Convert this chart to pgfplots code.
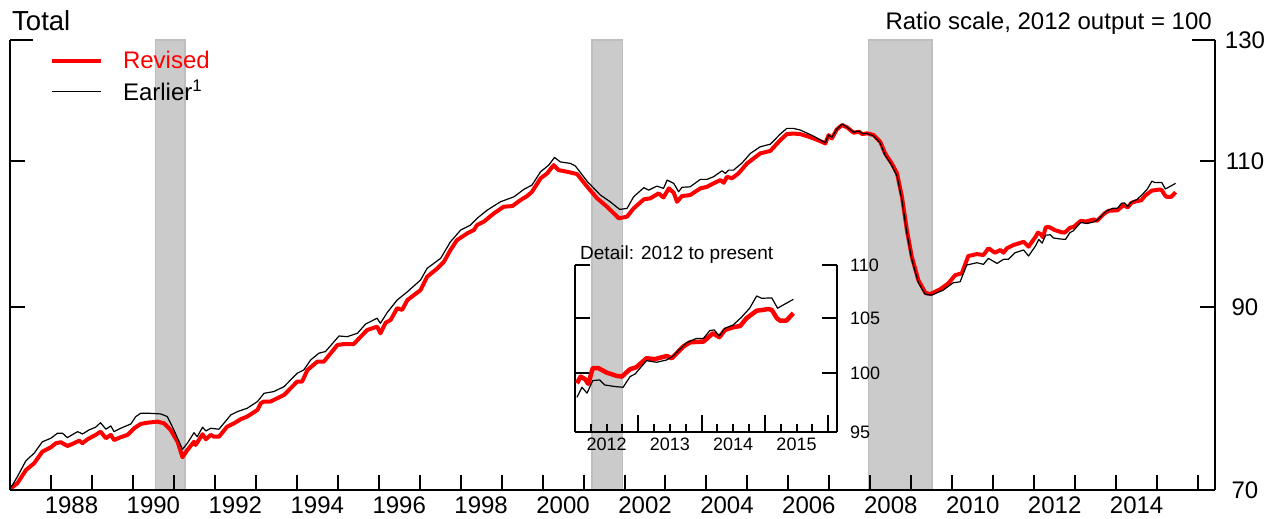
\documentclass[border=0pt]{standalone}
\usepackage{fontspec}
\setmainfont{Liberation Sans}
\usepackage{pgfplots}
\usepackage{pgfplotstable}
\pgfplotsset{compat=1.18}
\definecolor{recess}{HTML}{CBCBCB}
\definecolor{recessedge}{HTML}{BEBEBE}
\definecolor{revred}{HTML}{FF0000}

\pgfplotstableread{
year value
1987.00 70.10
1987.18 70.65
1987.39 71.95
1987.59 72.62
1987.79 73.79
1988.00 74.24
1988.12 74.65
1988.24 74.75
1988.40 74.37
1988.52 74.57
1988.69 74.91
1988.77 74.65
1988.89 75.05
1989.09 75.51
1989.21 75.85
1989.34 75.16
1989.46 75.51
1989.54 74.98
1989.70 75.27
1989.87 75.51
1990.03 76.21
1990.19 76.66
1990.35 76.79
1990.60 76.90
1990.76 76.73
1990.92 76.03
1991.09 74.80
1991.21 73.22
1991.33 73.96
1991.49 74.80
1991.53 74.47
1991.70 75.58
1991.78 75.05
1991.90 75.51
1991.98 75.33
1992.10 75.33
1992.30 76.37
1992.47 76.73
1992.63 77.16
1992.79 77.44
1993.04 78.15
1993.12 78.87
1993.20 79.06
1993.36 79.06
1993.69 79.78
1994.01 81.25
1994.13 81.25
1994.26 82.56
1994.50 83.51
1994.66 83.51
1994.99 85.44
1995.15 85.56
1995.39 85.56
1995.56 86.43
1995.72 87.23
1995.96 87.63
1996.04 86.83
1996.17 88.11
1996.29 88.44
1996.45 89.88
1996.57 89.67
1996.70 90.90
1996.86 91.52
1997.02 92.15
1997.18 93.85
1997.43 94.94
1997.59 95.81
1997.75 97.37
1997.91 98.71
1998.16 99.63
1998.32 100.08
1998.40 100.77
1998.56 101.23
1998.81 102.40
1999.05 103.35
1999.26 103.44
1999.46 104.30
1999.62 104.87
1999.74 105.49
1999.95 107.46
2000.11 108.20
2000.27 109.44
2000.39 108.69
2000.60 108.44
2000.84 108.10
2001.09 106.22
2001.33 104.55
2001.57 103.35
2001.86 101.71
2002.06 101.94
2002.22 103.11
2002.47 104.40
2002.63 104.55
2002.83 105.26
2002.95 104.68
2003.08 105.99
2003.20 105.35
2003.28 104.05
2003.40 104.87
2003.60 105.02
2003.85 105.99
2004.01 106.22
2004.17 106.72
2004.34 107.21
2004.42 106.81
2004.50 107.70
2004.62 107.46
2004.78 108.20
2004.99 109.69
2005.15 110.45
2005.31 111.21
2005.56 111.61
2005.80 113.26
2005.96 114.20
2006.12 114.30
2006.29 114.20
2006.45 113.90
2006.61 113.53
2006.78 113.10
2006.90 112.75
2006.98 114.05
2007.06 113.53
2007.18 114.95
2007.31 115.64
2007.43 115.27
2007.59 114.43
2007.72 114.58
2007.80 114.22
2007.92 114.33
2008.08 114.06
2008.24 113.00
2008.36 111.21
2008.52 109.69
2008.65 108.20
2008.77 104.77
2008.89 100.08
2009.01 96.48
2009.17 93.43
2009.34 91.81
2009.46 91.65
2009.58 91.94
2009.70 92.24
2009.90 93.00
2010.07 94.07
2010.23 94.29
2010.39 96.57
2010.60 96.83
2010.76 96.70
2010.88 97.60
2011.04 97.01
2011.17 97.37
2011.25 97.01
2011.33 97.60
2011.49 98.04
2011.74 98.48
2011.86 97.82
2012.03 99.15
2012.09 99.73
2012.16 99.50
2012.21 99.09
2012.28 100.47
2012.37 100.47
2012.50 100.08
2012.66 99.79
2012.74 99.73
2012.87 100.38
2012.97 100.55
2013.13 101.35
2013.26 101.27
2013.45 101.55
2013.53 101.35
2013.71 102.39
2013.82 102.78
2014.03 102.84
2014.18 103.60
2014.28 103.24
2014.37 103.90
2014.50 104.15
2014.61 104.26
2014.71 104.97
2014.87 105.67
2014.97 105.74
2015.05 105.83
2015.11 105.74
2015.19 104.97
2015.24 104.75
2015.34 104.75
2015.45 105.44
}\revised

\pgfplotstableread{
year value
1987.00 70.20
1987.06 70.48
1987.18 71.29
1987.39 72.88
1987.59 73.63
1987.79 74.80
1988.00 75.16
1988.16 75.69
1988.28 75.69
1988.40 75.23
1988.65 75.85
1988.77 75.61
1988.93 76.03
1989.09 76.31
1989.21 76.79
1989.34 76.10
1989.46 76.45
1989.54 75.85
1989.70 76.21
1989.95 76.66
1990.07 77.44
1990.19 77.80
1990.39 77.80
1990.68 77.72
1990.84 77.44
1991.00 76.03
1991.21 74.03
1991.33 74.65
1991.49 75.74
1991.57 75.33
1991.70 76.31
1991.78 75.92
1991.90 76.21
1992.10 76.10
1992.39 77.62
1992.55 77.97
1992.79 78.33
1993.04 79.06
1993.20 79.96
1993.44 80.14
1993.69 80.69
1994.01 82.19
1994.17 82.56
1994.34 83.71
1994.54 84.49
1994.70 84.68
1995.03 86.51
1995.23 86.43
1995.48 86.83
1995.68 87.95
1995.96 88.65
1996.04 88.03
1996.21 89.37
1996.45 90.90
1996.70 91.94
1997.02 93.43
1997.18 94.94
1997.51 96.26
1997.75 98.48
1998.00 100.08
1998.24 100.77
1998.40 101.71
1998.65 102.87
1998.97 104.05
1999.30 104.77
1999.54 105.84
1999.74 106.47
1999.95 108.44
2000.15 109.44
2000.29 110.60
2000.43 109.93
2000.68 109.69
2000.80 109.30
2001.09 107.00
2001.41 105.02
2001.65 104.05
2001.88 102.97
2002.06 103.11
2002.22 104.77
2002.47 106.09
2002.59 105.74
2002.79 106.32
2002.95 105.99
2003.04 107.21
2003.20 106.72
2003.32 105.49
2003.40 106.15
2003.60 106.22
2003.85 107.31
2004.01 107.31
2004.17 107.70
2004.38 108.59
2004.46 108.20
2004.54 108.69
2004.66 108.69
2004.87 109.78
2005.07 111.21
2005.31 112.23
2005.56 112.64
2005.80 114.22
2005.96 115.11
2006.12 115.11
2006.29 114.84
2006.61 113.90
2006.90 112.86
2006.98 114.05
2007.06 113.70
2007.18 115.00
2007.31 115.80
2007.43 115.30
2007.59 114.50
2007.72 114.70
2007.80 114.30
2007.92 114.30
2008.08 113.90
2008.24 112.80
2008.36 110.90
2008.52 109.40
2008.65 107.80
2008.77 104.30
2008.89 99.70
2009.01 96.10
2009.17 93.10
2009.34 91.60
2009.50 91.52
2009.78 92.15
2010.02 93.08
2010.19 93.21
2010.35 95.38
2010.60 95.68
2010.76 95.47
2010.88 96.26
2011.09 95.60
2011.25 96.13
2011.37 96.13
2011.53 97.01
2011.74 97.37
2011.86 96.57
2012.03 97.93
2012.11 98.80
2012.19 98.29
2012.28 99.38
2012.39 99.44
2012.47 99.00
2012.63 98.86
2012.76 98.80
2012.87 99.73
2012.95 99.96
2013.13 101.13
2013.29 100.99
2013.45 101.20
2013.55 101.55
2013.76 102.74
2013.92 103.13
2014.03 103.13
2014.13 103.84
2014.20 103.90
2014.28 103.35
2014.37 104.05
2014.50 104.36
2014.63 105.06
2014.76 105.90
2014.87 107.04
2014.95 106.83
2015.11 106.86
2015.20 105.90
2015.45 106.73
}\earlier

\begin{document}
\begin{tikzpicture}
\path[use as bounding box] (-10bp,-29bp) rectangle (1268bp,490bp);
\begin{axis}[
  at={(0,0)}, anchor=south west,
  scale only axis, width=1205bp, height=450bp,
  xmin=1987, xmax=2016.41,
  ymode=log, ymin=70, ymax=130,
  axis x line*=bottom, axis y line*=box,
  axis on top,
  axis line style={line width=2bp, black},
  tick style={line width=2bp, black},
  major tick length=15bp,
  tick align=inside,
  xtick={1988,1989,...,2016},
  xticklabels={1988,,1990,,1992,,1994,,1996,,1998,,2000,,2002,,2004,,2006,,2008,,2010,,2012,,2014,,},
  xticklabel style={anchor=north, inner sep=0pt, yshift=-7bp, xshift=20.5bp},
  ytick={70,90,110,130},
  yticklabels={70,90,110,130},
  yticklabel pos=right,
  yticklabel style={anchor=center, inner sep=0pt, xshift=30bp},
  extra y ticks={130},
  extra y tick labels={},
  extra y tick style={major tick length=23bp},
  tick label style={font=\fontsize{24bp}{28bp}\selectfont},
  /pgf/number format/assume math mode=true,
  clip=true,
  legend style={at={(0.0332,0.9744)}, anchor=north west, draw=none, fill=none,
    inner sep=0pt, outer sep=0pt, font=\fontsize{24bp}{28bp}\selectfont,
    row sep=10bp, column sep=0bp,
    nodes={inner sep=0pt}},
  legend cell align=left,
  legend image code/.code={\draw[#1] (0bp,0bp) -- (49bp,0bp);},
  /tikz/every odd column/.append style={column sep=20bp},
]
\addplot[fill=recess, draw=recessedge, line width=1.5bp, forget plot] coordinates {(1990.55,70) (1990.55,130) (1991.27,130) (1991.27,70)};
\addplot[fill=recess, draw=recessedge, line width=1.5bp, forget plot] coordinates {(2001.20,70) (2001.20,130) (2001.95,130) (2001.95,70)};
\addplot[fill=recess, draw=recessedge, line width=1.5bp, forget plot] coordinates {(2007.95,70) (2007.95,130) (2009.50,130) (2009.50,70)};
\addplot[revred, line width=4bp, line join=round] table[x=year, y=value] {\revised};
\addlegendentry{\textcolor{revred}{Revised}}
\addplot[black, line width=1.2bp, line join=round] table[x=year, y=value] {\earlier};
\addlegendentry{Earlier\textsuperscript{1}}
\end{axis}

\begin{axis}[
  at={(565bp,58bp)}, anchor=south west,
  scale only axis, width=262bp, height=167bp,
  xmin=2012, xmax=2016.14,
  ymode=log, ymin=95, ymax=110,
  axis x line*=bottom, axis y line*=box,
  axis line style={line width=2bp, black},
  tick style={line width=2bp, black},
  major tick length=15bp,
  minor tick length=8bp,
  tick align=inside,
  xtick={2012,2013,2014,2015,2016},
  minor x tick num=3,
  xticklabels={2012,2013,2014,2015,},
  xticklabel style={anchor=north, inner sep=0pt, yshift=-6bp, xshift=31.65bp},
  extra x ticks={2013,2014,2015,2016},
  extra x tick labels={},
  extra x tick style={major tick length=17bp},
  ytick={95,100,105,110},
  yticklabels={95,100,105,110},
  yticklabel pos=right,
  yticklabel style={anchor=west, inner sep=0pt, xshift=13bp},
  extra y ticks={110},
  extra y tick labels={},
  tick label style={font=\fontsize{18bp}{21bp}\selectfont},
  /pgf/number format/assume math mode=true,
]
\addplot[revred, line width=4.5bp, line join=round, restrict x to domain=2011.99:2016] table[x=year, y=value] {\revised};
\addplot[black, line width=1.2bp, line join=round, restrict x to domain=2011.99:2016] table[x=year, y=value] {\earlier};
\end{axis}

\node[anchor=base west, inner sep=0pt, font=\fontsize{27.5bp}{31bp}\selectfont] at (2bp,459.5bp) {Total};
\node[anchor=base east, inner sep=0pt, font=\fontsize{24bp}{28bp}\selectfont] at (1202bp,460bp) {Ratio scale, 2012 output = 100};
\node[anchor=base west, inner sep=0pt, font=\fontsize{19bp}{22bp}\selectfont] at (570bp,230.5bp) {Detail: 2012 to present};
\end{tikzpicture}
\end{document}
